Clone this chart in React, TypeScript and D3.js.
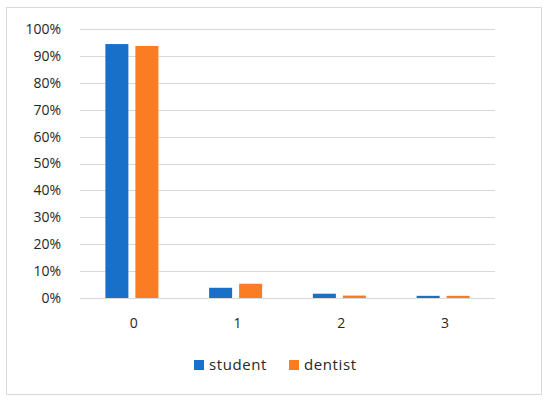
import React from "react";
import * as d3 from "d3";

const categories = ["0", "1", "2", "3"];
const seriesNames = ["student", "dentist"];
const studentValues = [0.944, 0.038, 0.016, 0.008];
const dentistValues = [0.937, 0.053, 0.009, 0.008];
const yTicks = [0, 0.1, 0.2, 0.3, 0.4, 0.5, 0.6, 0.7, 0.8, 0.9, 1.0];
const colors = ["#1870c9", "#fb7d23"];

export default function App() {
  const W = 550, H = 403;
  const left = 80, right = 495, top = 29, bottom = 298;
  const x = d3.scaleBand().domain(categories).range([left, right]).paddingInner(0).paddingOuter(0);
  const y = d3.scaleLinear().domain([0, 1]).range([bottom, top]);
  const barW = 23;
  const gap = 7;
  const series = [studentValues, dentistValues];
  const font = "'Open Sans', 'Liberation Sans', Arial, sans-serif";
  return (
    <svg width={W} height={H} style={{ position: "absolute", left: 0, top: 0 }}>
      <rect x={0} y={0} width={W} height={H} fill="#fff" />
      <rect x={6.5} y={7.5} width={535} height={387} fill="#fff" stroke="#d9d9d9" strokeWidth={1} />
      {yTicks.map((t) => (
        <g key={t}>
          <line x1={left} x2={right} y1={Math.round(y(t)) + 0.5} y2={Math.round(y(t)) + 0.5} stroke="#d9d9d9" strokeWidth={1} />
          <text x={61} y={y(t)} dy="0.35em" textAnchor="end" fontFamily={font} fontSize={14} fill="#262626">
            {d3.format(".0%")(t)}
          </text>
        </g>
      ))}
      {categories.map((c, i) => {
        const cx = (x(c) as number) + x.bandwidth() / 2;
        return (
          <g key={c}>
            {series.map((vals, s) => {
              const bx = s === 0 ? cx - gap / 2 - barW : cx + gap / 2;
              return (
                <rect key={s} x={bx} y={y(vals[i])} width={barW} height={y(0) - y(vals[i])} fill={colors[s]} />
              );
            })}
            <text x={cx + 2} y={323} dy="0.35em" textAnchor="middle" fontFamily={font} fontSize={14} fill="#262626">
              {c}
            </text>
          </g>
        );
      })}
      {seriesNames.map((n, s) => {
        const lx = s === 0 ? 194 : 289;
        return (
          <g key={n}>
            <rect x={lx} y={360} width={10} height={10} fill={colors[s]} />
            <text x={lx + 15} y={365} dy="0.35em" fontFamily={font} fontSize={15} letterSpacing={0.6} fill="#262626">
              {n}
            </text>
          </g>
        );
      })}
    </svg>
  );
}
